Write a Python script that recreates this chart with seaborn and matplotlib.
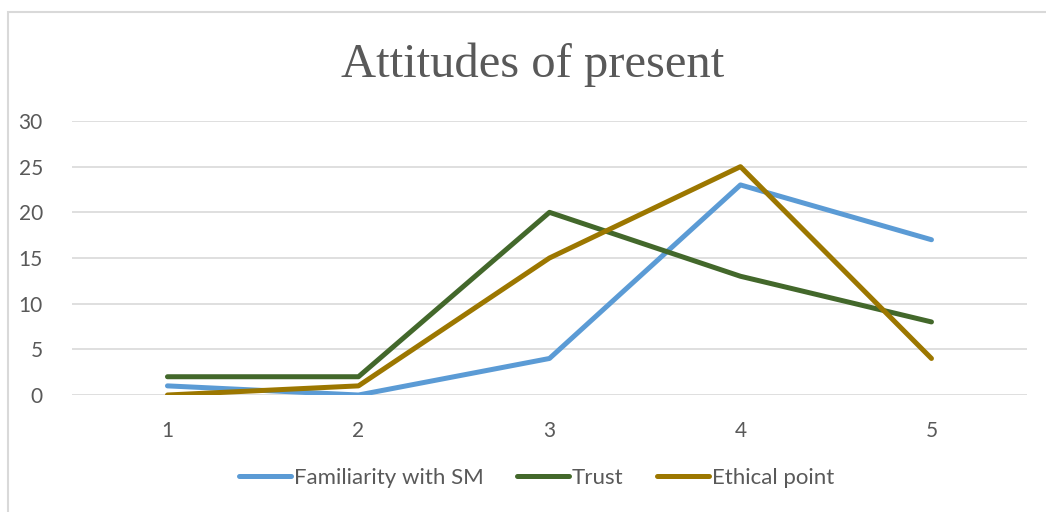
import pandas as pd
import matplotlib.pyplot as plt
import matplotlib.patches as patches
import seaborn as sns

# values
categories = [1, 2, 3, 4, 5]
familiarity = [1, 0, 4, 23, 17]
trust = [2, 2, 20, 13, 8]
ethical = [0, 1, 15, 25, 4]
series_names = ["Familiarity with SM", "Trust", "Ethical point"]
colors = ["#5B9BD5", "#43682B", "#9C7700"]

df = pd.DataFrame({
    "x": categories * 3,
    "value": familiarity + trust + ethical,
    "series": [n for n in series_names for _ in categories],
})

sns.set_theme(style="white")
plt.rcParams["font.family"] = ["Lato", "DejaVu Sans"]

fig = plt.figure(figsize=(10.46, 5.12), dpi=100)
ax = fig.add_axes([0.0688, 0.2285, 0.9130, 0.5352])

sns.lineplot(data=df, x="x", y="value", hue="series", palette=colors,
             hue_order=series_names, linewidth=3.6, ax=ax, legend=False,
             solid_capstyle="round")

ax.set_xlim(0.5, 5.5)
ax.set_ylim(0, 30)
ax.set_yticks(range(0, 31, 5))
ax.set_xticks(categories)
ax.grid(axis="y", color="#D9D9D9", linewidth=1.2)
ax.set_axisbelow(True)
for s in ax.spines.values():
    s.set_visible(False)
ax.tick_params(axis="both", length=0, labelsize=15, colors="#595959")
ax.tick_params(axis="y", pad=21)
ax.tick_params(axis="x", pad=19)
ax.set_xlabel("")
ax.set_ylabel("")

fig.text(0.509, 0.873, "Attitudes of present", ha="center", va="center",
         fontsize=35, color="#595959", family="Liberation Serif")

handles = [plt.Line2D([0], [0], color=c, linewidth=3.6, solid_capstyle="round")
           for c in colors]
fig.legend(handles, series_names, loc="center", bbox_to_anchor=(0.513, 0.066),
           ncol=3, frameon=False, fontsize=16, handlelength=2.36,
           handletextpad=0.12, columnspacing=1.5, labelcolor="#595959")

# outer chart-area border, runs off the right and bottom edges
fig.patches.append(patches.Rectangle((8 / 1046, -0.05), 1.1, 1 - 12 / 512 + 0.05,
                                     transform=fig.transFigure, fill=False,
                                     edgecolor="#D9D9D9", linewidth=1.5))

fig.savefig("out.png", dpi=100)
